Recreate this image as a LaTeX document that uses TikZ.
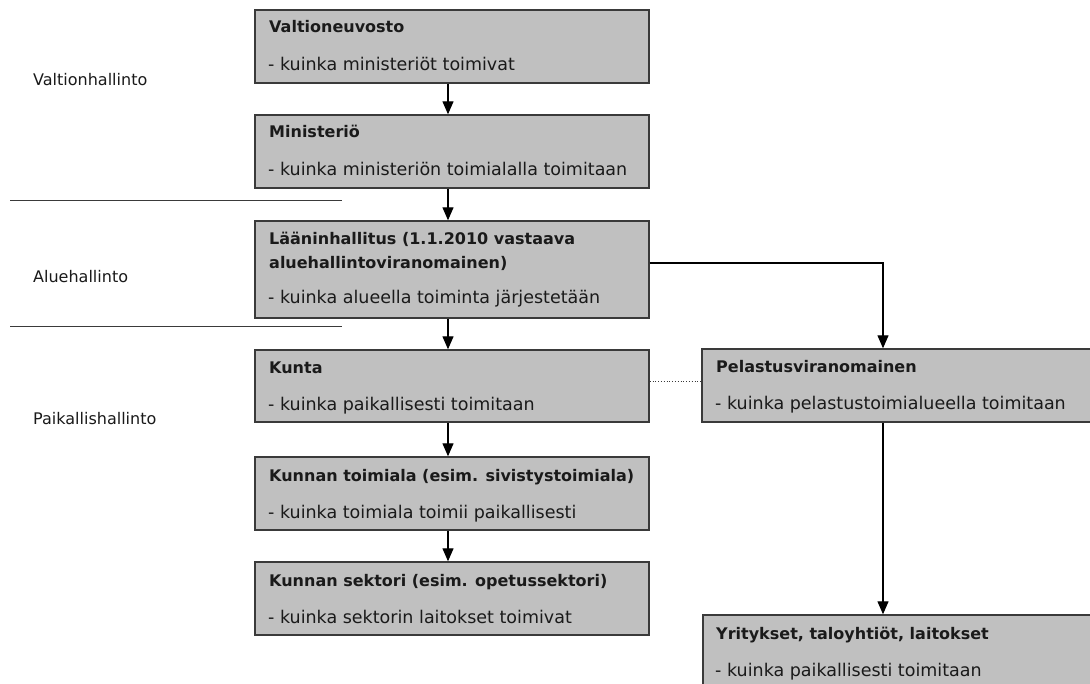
\documentclass[tikz,border=0pt]{standalone}
\usepackage{fontspec}
\setmainfont{DejaVu Sans}
\usetikzlibrary{fit,arrows.meta}
\definecolor{boxfill}{HTML}{C0C0C0}
\definecolor{boxline}{HTML}{3A3A3A}
\definecolor{txt}{HTML}{1A1A1A}
\tikzset{
  box/.style={draw=boxline, line width=1.4pt, fill=boxfill, inner sep=0pt},
  bt/.style={anchor=base west, inner sep=0pt, text=txt, font=\bfseries\fontsize{16}{19}\selectfont},
  rt/.style={anchor=base west, inner sep=0pt, text=txt, font=\fontsize{17.5}{20}\selectfont},
  lt/.style={anchor=base west, inner sep=0pt, text=txt, font=\fontsize{16}{19}\selectfont},
  arr/.style={draw=black, line width=1.2pt, -{Triangle[width=11pt,length=13pt]}},
  sep/.style={draw=boxline, line width=1pt}
}
\begin{document}
\begin{tikzpicture}[x=1pt,y=-1pt]
\useasboundingbox (0,0) rectangle (1090,684);
\clip (0,0) rectangle (1090,684);
\fill[white] (0,0) rectangle (1090,684);

% left labels
\node[lt] (lab1) at (33,86) {Valtionhallinto};
\node[lt] (lab2) at (33,283) {Aluehallinto};
\node[lt] (lab3) at (33,425) {Paikallishallinto};
\coordinate (s1a) at (10,201);
\coordinate (s1b) at (342,201);
\coordinate (s2a) at (10,327);
\coordinate (s2b) at (342,327);
\draw[sep] (s1a) -- (s1b);
\draw[sep] (s2a) -- (s2b);

% boxes
\node[box, fit={(255,10)(649,83)}] (b1) {};
\node[box, fit={(255,115)(649,188)}] (b2) {};
\node[box, fit={(255,221)(649,318)}] (b3) {};
\node[box, fit={(255,350)(649,422)}] (b4) {};
\node[box, fit={(255,457)(649,530)}] (b5) {};
\node[box, fit={(255,562)(649,635)}] (b6) {};
\node[box, fit={(702,349)(1096,422)}] (pel) {};
\node[box, fit={(703,615)(1096,692)}] (yr) {};

% texts
\node[bt] (t1a) at (269,33) {Valtioneuvosto};
\node[rt] (t1b) at (268,71) {- kuinka ministeriöt toimivat};
\node[bt] (t2a) at (269,138) {Ministeriö};
\node[rt] (t2b) at (268,176) {- kuinka ministeriön toimialalla toimitaan};
\node[bt] (t3a) at (269,245) {Lääninhallitus (1.1.2010 vastaava};
\node[bt] (t3b) at (269,269) {aluehallintoviranomainen)};
\node[rt] (t3c) at (268,304) {- kuinka alueella toiminta järjestetään};
\node[bt] (t4a) at (269,374) {Kunta};
\node[rt] (t4b) at (268,411) {- kuinka paikallisesti toimitaan};
\node[bt] (t5a) at (269,481) {Kunnan toimiala (esim. sivistystoimiala)};
\node[rt] (t5b) at (268,518) {- kuinka toimiala toimii paikallisesti};
\node[bt] (t6a) at (269,586) {Kunnan sektori (esim. opetussektori)};
\node[rt] (t6b) at (268,623) {- kuinka sektorin laitokset toimivat};
\node[bt] (tpa) at (716,373) {Pelastusviranomainen};
\node[rt] (tpb) at (715,410) {- kuinka pelastustoimialueella toimitaan};
\node[bt] (tya) at (716,639) {Yritykset, taloyhtiöt, laitokset};
\node[rt] (tyb) at (715,676) {- kuinka paikallisesti toimitaan};

% connectors
\coordinate (ax) at (448,0);
\coordinate (c1) at (883,263);
\coordinate (c2) at (0,381);
\draw[arr] (b1.south -| ax) -- (b2.north -| ax);
\draw[arr] (b2.south -| ax) -- (b3.north -| ax);
\draw[arr] (b3.south -| ax) -- (b4.north -| ax);
\draw[arr] (b4.south -| ax) -- (b5.north -| ax);
\draw[arr] (b5.south -| ax) -- (b6.north -| ax);
\draw[arr] (b3.east |- c1) -| (pel.north -| c1);
\draw[arr] (pel.south -| c1) -- (yr.north -| c1);
\draw[draw=boxline, line width=0.8pt, dotted] (b4.east |- c2) -- (pel.west |- c2);
\end{tikzpicture}
\end{document}
